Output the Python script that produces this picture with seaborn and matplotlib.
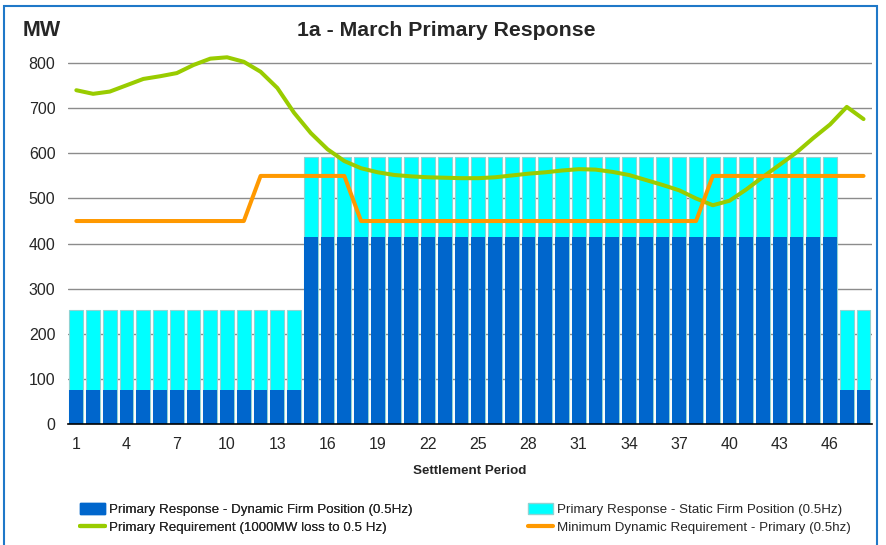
"""
1a - March Primary Response
Stacked firm-position bars with requirement lines
"""

import numpy as np
import pandas as pd
import matplotlib
matplotlib.use('Agg')
import matplotlib.pyplot as plt
from matplotlib.patches import Patch, Rectangle
from matplotlib.lines import Line2D
import seaborn as sns

# ── Data ──────────────────────────────────────────────────────────────────────

periods = list(range(1, 49))
dynamic_firm = [75] * 14 + [415] * 32 + [75] * 2
static_firm = [177] * 48
primary_req = [740, 732, 737, 751, 765, 771, 778, 796, 810, 813, 803, 781,
               745, 690, 645, 609, 583, 567, 558, 552, 549, 547, 546, 545,
               545, 547, 551, 555, 558, 562, 565, 564, 559, 552, 541, 530,
               518, 500, 485, 495, 520, 548, 575, 602, 634, 664, 703, 676]
min_dynamic_req = [450] * 11 + [550] * 6 + [450] * 21 + [550] * 10
xtick_labels = [str(p) for p in periods[::3]]
yticks = [0, 100, 200, 300, 400, 500, 600, 700, 800]

legend_labels = [
    'Primary Response - Dynamic Firm Position (0.5Hz)',
    'Primary Requirement (1000MW loss to 0.5 Hz)',
    'Primary Response - Static Firm Position (0.5Hz)',
    'Minimum Dynamic Requirement - Primary (0.5hz)',
]

C_DYN = '#0066cc'
C_STAT = '#00ffff'
C_EDGE = '#8fd3d3'
C_REQ = '#99cc00'
C_MIN = '#ff9900'

# ── Plot ──────────────────────────────────────────────────────────────────────

sns.set_style('white')
plt.rcParams['font.family'] = ['Liberation Sans', 'DejaVu Sans']

df = pd.DataFrame({
    'period': periods,
    'dynamic': dynamic_firm,
    'total': np.add(dynamic_firm, static_firm),
    'req': primary_req,
    'minreq': min_dynamic_req,
})
df['pos'] = np.arange(len(df))

fig = plt.figure(figsize=(8.86, 5.45), dpi=100)
ax = fig.add_axes([0.0767, 0.222, 0.9074, 0.7035])

# gridlines behind the bars
ax.grid(False)
for yv in yticks[1:]:
    ax.axhline(yv, color='#8c8c8c', linewidth=1, zorder=0.5)

sns.barplot(data=df, x='period', y='total', color=C_STAT, saturation=1,
            width=0.82, edgecolor=C_EDGE, linewidth=0.8, ax=ax)
sns.barplot(data=df, x='period', y='dynamic', color=C_DYN, saturation=1,
            width=0.82, linewidth=0, ax=ax)
for p in ax.patches:
    p.set_zorder(2)
sns.lineplot(data=df, x='pos', y='req', color=C_REQ, linewidth=2.9, ax=ax, zorder=4)
sns.lineplot(data=df, x='pos', y='minreq', color=C_MIN, linewidth=2.9, ax=ax, zorder=4)

ax.grid(False)
ax.set_xlim(-0.5, len(periods) - 0.5)
ax.set_ylim(0, 850)
ax.set_yticks(yticks)

ax.set_xticks(df['pos'][::3])
ax.set_xticklabels(xtick_labels, fontsize=11.5)
ax.set_xticks(np.arange(-0.5, len(periods), 3), minor=True)
ax.tick_params(axis='x', which='major', length=0, pad=9)
ax.tick_params(axis='x', which='minor', length=5, width=1, color='black', direction='out')
ax.tick_params(axis='y', length=0, labelsize=11.5, pad=9)

for s in ['top', 'right', 'left']:
    ax.spines[s].set_visible(False)
ax.spines['bottom'].set_color('black')
ax.spines['bottom'].set_linewidth(1.2)
ax.spines['bottom'].set_zorder(5)

ax.set_xlabel('Settlement Period', fontsize=9.6, fontweight='bold', labelpad=10)
ax.set_ylabel('')

fig.text(0.504, 0.944, '1a - March Primary Response', ha='center', va='center',
         fontsize=15.3, fontweight='bold')
fig.text(0.025, 0.944, 'MW', ha='left', va='center', fontsize=15.5, fontweight='bold')

handles = [
    Patch(facecolor=C_DYN, edgecolor=C_DYN),
    Line2D([0], [0], color=C_REQ, linewidth=3),
    Patch(facecolor=C_STAT, edgecolor=C_EDGE),
    Line2D([0], [0], color=C_MIN, linewidth=3),
]
leg_kw = dict(loc='lower left', frameon=False, fontsize=9.6, handlelength=1.9,
              handleheight=0.8, handletextpad=0.3, labelspacing=0.4,
              borderpad=0, borderaxespad=0)
leg1 = fig.legend(handles[:2], legend_labels[:2], bbox_to_anchor=(0.090, 0.020), **leg_kw)
fig.legend(handles[2:], legend_labels[2:], bbox_to_anchor=(0.596, 0.020), **leg_kw)
fig.add_artist(leg1)

# outer chart frame
fig.add_artist(Rectangle((0.0045, -0.05), 0.985, 1.039, transform=fig.transFigure,
                         fill=False, edgecolor='#1f78c8', linewidth=1.5))

fig.savefig('out.png', dpi=100)
plt.close(fig)
